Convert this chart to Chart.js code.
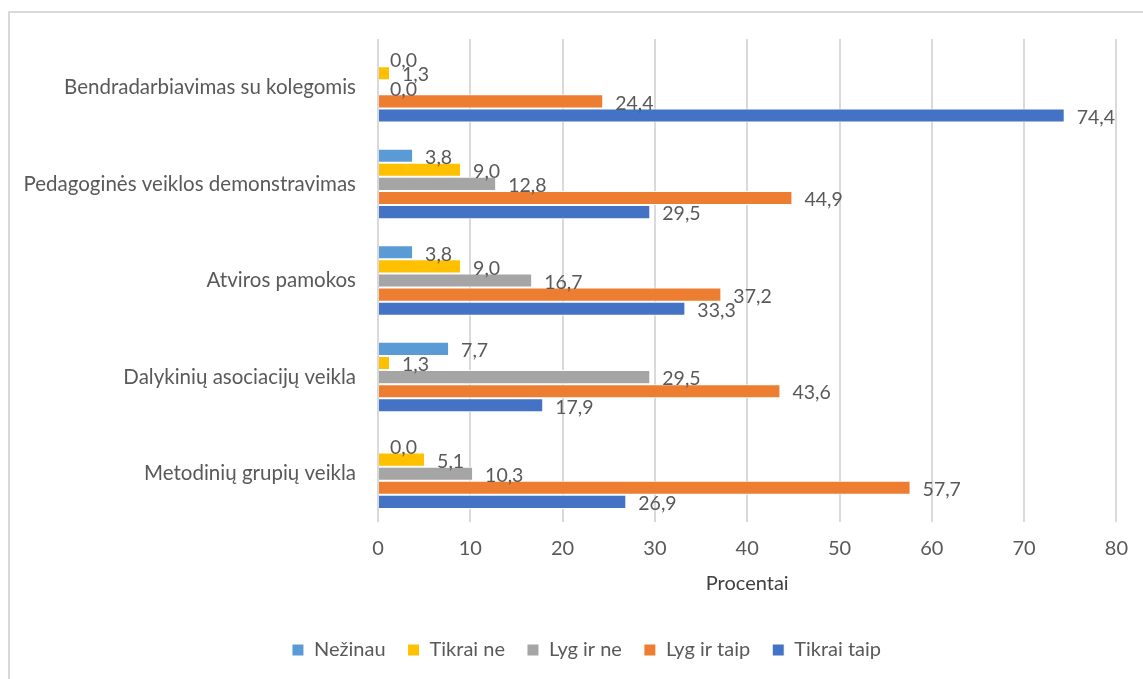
<!DOCTYPE html>
<html lang="lt">
<head>
<meta charset="utf-8">
<title>Procentai</title>
<script src="https://cdn.jsdelivr.net/npm/chart.js@4.4.1/dist/chart.umd.min.js"></script>
<style>
    html, body { margin: 0; padding: 0; background: #fff; }
    #wrap { position: relative; width: 1143px; height: 679px; overflow: hidden; }
    #frame {
        position: absolute; left: 8px; top: 11px; width: 1150px; height: 690px;
        border: 2px solid #d9d9d9; box-sizing: border-box;
    }
    canvas { position: absolute; left: 0; top: 0; }
</style>
</head>
<body>
<div id="wrap">
    <div id="frame"></div>
    <canvas id="barChart" width="1143" height="679"></canvas>
</div>
<script>
// categories, top to bottom
const categories = [
    'Bendradarbiavimas su kolegomis',
    'Pedagoginės veiklos demonstravimas',
    'Atviros pamokos',
    'Dalykinių asociacijų veikla',
    'Metodinių grupių veikla'
];
const seriesNames = ['Nežinau', 'Tikrai ne', 'Lyg ir ne', 'Lyg ir taip', 'Tikrai taip'];
const seriesColors = ['#5b9bd5', '#ffc000', '#a5a5a5', '#ed7d31', '#4472c4'];

// values in percent
const nezinau    = [0.0, 3.8, 3.8, 7.7, 0.0];
const tikraiNe   = [1.3, 9.0, 9.0, 1.3, 5.1];
const lygIrNe    = [0.0, 12.8, 16.7, 29.5, 10.3];
const lygIrTaip  = [24.4, 44.9, 37.2, 43.6, 57.7];
const tikraiTaip = [74.4, 29.5, 33.3, 17.9, 26.9];

const xMin = 0;
const xMax = 80;
const xStep = 10;

const FONT = 'Lato, "Open Sans", sans-serif';
const TEXT_GREY = '#595959';

const seriesValues = [nezinau, tikraiNe, lygIrNe, lygIrTaip, tikraiTaip];

// value labels just right of each bar, with comma decimals
const valueLabels = {
    id: 'valueLabels',
    afterDatasetsDraw(chart) {
        const ctx = chart.ctx;
        ctx.save();
        ctx.font = '19.5px ' + FONT;
        ctx.fillStyle = TEXT_GREY;
        ctx.textAlign = 'left';
        ctx.textBaseline = 'middle';
        chart.data.datasets.forEach((ds, i) => {
            chart.getDatasetMeta(i).data.forEach((bar, j) => {
                const txt = ds.data[j].toFixed(1).replace('.', ',');
                ctx.fillText(txt, bar.x + 12, bar.y + 2);
            });
        });
        ctx.restore();
    }
};

// nudge the legend a little to the right, like the original
const legendShift = {
    id: 'legendShift',
    afterLayout(chart) {
        const lg = chart.legend;
        if (!lg) return;
        lg.left += 28;
        lg.right += 28;
    }
};

const ctx = document.getElementById('barChart').getContext('2d');
new Chart(ctx, {
    type: 'bar',
    data: {
        labels: categories,
        datasets: seriesNames.map((name, i) => ({
            label: name,
            data: seriesValues[i],
            backgroundColor: seriesColors[i],
            borderColor: '#ffffff',
            borderWidth: 1,
            categoryPercentage: 0.73,
            barPercentage: 1.0
        }))
    },
    options: {
        indexAxis: 'y',
        responsive: false,
        animation: false,
        events: [],
        layout: {
            padding: { top: 39, right: 26, bottom: 9, left: 0 }
        },
        scales: {
            y: {
                grid: { display: false, drawTicks: false },
                border: { display: false },
                ticks: {
                    color: TEXT_GREY,
                    font: { family: FONT, size: 20.5 },
                    padding: 22
                },
                afterFit(scale) { scale.width = 378; }
            },
            x: {
                min: xMin,
                max: xMax,
                grid: { color: '#d9d9d9', lineWidth: 2, drawTicks: false },
                border: { display: false },
                ticks: {
                    stepSize: xStep,
                    color: TEXT_GREY,
                    font: { family: FONT, size: 20 },
                    padding: 15
                },
                title: {
                    display: true,
                    text: 'Procentai',
                    color: '#404040',
                    font: { family: FONT, size: 20 },
                    padding: { top: 0, bottom: 22 }
                },
                afterFit(scale) { scale.height = 96; }
            }
        },
        plugins: {
            legend: {
                position: 'bottom',
                labels: {
                    color: TEXT_GREY,
                    font: { family: FONT, size: 20 },
                    boxWidth: 12,
                    boxHeight: 12,
                    padding: 22
                }
            },
            tooltip: { enabled: false }
        }
    },
    plugins: [valueLabels, legendShift]
});
</script>
</body>
</html>
